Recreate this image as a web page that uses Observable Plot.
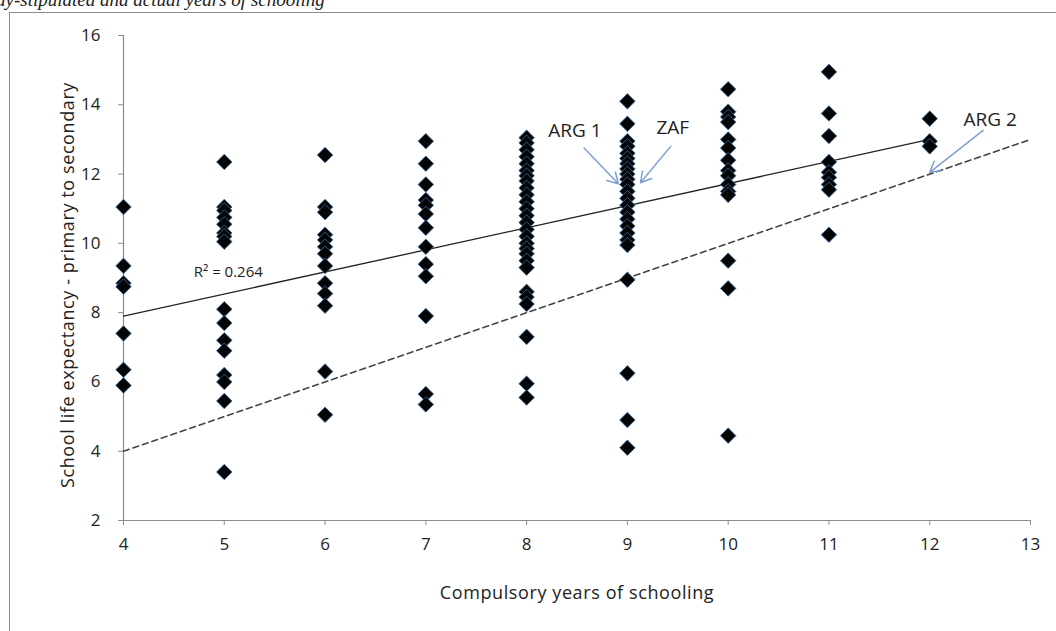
<!DOCTYPE html>
<html>
<head>
<meta charset="utf-8">
<script src="https://cdn.jsdelivr.net/npm/d3@7"></script>
<script src="https://cdn.jsdelivr.net/npm/@observablehq/plot@0.6"></script>
<style>
  html, body { margin: 0; padding: 0; background: #fff; width: 1056px; height: 631px; overflow: hidden; position: relative; }
  #title { position: absolute; left: -4px; top: -10px; font-family: "Liberation Serif", serif; font-style: italic; font-size: 19px; line-height: 19px; color: #222; white-space: nowrap; }
  #frame { position: absolute; left: 9px; top: 12px; width: 1047px; height: 619px; border-left: 1px solid #8c8c8c; border-top: 1px solid #8c8c8c; box-sizing: border-box; }
  #frame svg { display: block; }
  #frame svg .axis-title { letter-spacing: 0.6px; }
</style>
</head>
<body>
<div id="title">ay-stipulated and actual years of schooling</div>
<div id="frame"></div>
<script>
// Compulsory years (x categories) and school life expectancy values per column
const years = [4, 5, 6, 7, 8, 9, 10, 11, 12];
const sle4  = [11.05, 9.35, 8.85, 8.75, 7.4, 6.35, 5.9];
const sle5  = [12.35, 11.05, 10.95, 10.75, 10.55, 10.3, 10.2, 10.05, 8.1, 7.7, 7.2, 6.9, 6.2, 6.0, 5.45, 3.4];
const sle6  = [12.55, 11.05, 10.9, 10.25, 10.1, 9.9, 9.7, 9.35, 8.85, 8.55, 8.2, 6.3, 5.05];
const sle7  = [12.95, 12.3, 11.7, 11.25, 11.1, 10.85, 10.45, 9.9, 9.4, 9.05, 7.9, 5.65, 5.35];
const sle8  = [13.05, 12.9, 12.7, 12.5, 12.3, 12.1, 11.95, 11.8, 11.6, 11.4, 11.2, 11.0, 10.8, 10.6, 10.4, 10.2, 10.0, 9.85, 9.7, 9.5, 9.3, 8.6, 8.45, 8.25, 7.3, 5.95, 5.55];
const sle9  = [14.1, 13.45, 12.95, 12.8, 12.6, 12.45, 12.3, 12.15, 12.0, 11.85, 11.7, 11.5, 11.3, 11.1, 10.9, 10.7, 10.5, 10.3, 10.1, 9.95, 8.95, 6.25, 4.9, 4.1];
const sle10 = [14.45, 13.8, 13.65, 13.5, 13.0, 12.75, 12.4, 12.1, 11.95, 11.7, 11.5, 11.4, 9.5, 8.7, 4.45];
const sle11 = [14.95, 13.75, 13.1, 12.35, 12.05, 11.9, 11.7, 11.55, 10.25];
const sle12 = [13.6, 12.95, 12.8];
const columns = [sle4, sle5, sle6, sle7, sle8, sle9, sle10, sle11, sle12];

// Linear trend line (as drawn) and 45-degree reference line
const trendX = [4, 12];
const trendY = [7.9, 13.0];
const parityX = [4, 13];
const parityY = [4, 13];

// Tick labels
const xTicks = [4, 5, 6, 7, 8, 9, 10, 11, 12, 13];
const yTicks = [2, 4, 6, 8, 10, 12, 14, 16];

// Annotations
const labelText = ["ARG 1", "ZAF", "ARG 2"];
const labelX = [8.48, 9.45, 12.6];
const labelY = [13.26, 13.32, 13.57];
const r2Text = ["R² = 0.264"];
const r2X = [5.04];
const r2Y = [9.16];
const arrowX1 = [8.57, 9.43, 12.53];
const arrowY1 = [12.75, 12.8, 13.26];
const arrowX2 = [8.91, 9.13, 12.0];
const arrowY2 = [11.72, 11.75, 12.05];

const points = [];
years.forEach((yr, i) => columns[i].forEach(v => points.push({x: yr, y: v})));
const trend = trendX.map((x, i) => ({x, y: trendY[i]}));
const parity = parityX.map((x, i) => ({x, y: parityY[i]}));
const labels = labelText.map((t, i) => ({t, x: labelX[i], y: labelY[i]}));
const r2 = r2Text.map((t, i) => ({t, x: r2X[i], y: r2Y[i]}));
const arrows = arrowX1.map((x1, i) => ({x1, y1: arrowY1[i], x2: arrowX2[i], y2: arrowY2[i]}));

const font = "'Open Sans', sans-serif";

const chart = Plot.plot({
  width: 1046,
  height: 618,
  marginLeft: 113,
  marginRight: 26,
  marginTop: 22,
  marginBottom: 111,
  style: {fontFamily: font, fontSize: "16px", color: "#333", background: "white", overflow: "visible"},
  x: {domain: [4, 13]},
  y: {domain: [2, 16]},
  marks: [
    Plot.ruleX([4], {y1: 2, y2: 16, stroke: "#8c8c8c", strokeWidth: 1.2}),
    Plot.ruleY([2], {x1: 4, x2: 13, stroke: "#8c8c8c", strokeWidth: 1.2}),
    Plot.axisY(yTicks, {tickSize: 5, tickPadding: 18, stroke: "#8c8c8c", fill: "#222", fontSize: 17, label: null}),
    Plot.axisX(xTicks, {tickSize: 5, tickPadding: 12, stroke: "#8c8c8c", fill: "#222", fontSize: 17, label: null}),
    Plot.text(["Compulsory years of schooling"], {frameAnchor: "bottom", dy: 78, fill: "#222", fontSize: 18, className: "axis-title"}),
    Plot.text(["School life expectancy - primary to secondary"], {frameAnchor: "left", textAnchor: "middle", dx: -55, dy: 7, rotate: -90, fill: "#222", fontSize: 18, className: "axis-title"}),
    Plot.line(parity, {x: "x", y: "y", stroke: "#444", strokeWidth: 1.6, strokeDasharray: "6,4"}),
    Plot.line(trend, {x: "x", y: "y", stroke: "#222", strokeWidth: 1.3}),
    Plot.dot(points, {x: "x", y: "y", symbol: "diamond2", r: 7, fill: "#050505", stroke: "#3a6ea5", strokeWidth: 0.8}),
    Plot.arrow(arrows, {x1: "x1", y1: "y1", x2: "x2", y2: "y2", stroke: "#7f9fd3", strokeWidth: 1.5, headLength: 12}),
    Plot.text(labels, {x: "x", y: "y", text: "t", fill: "#222", fontSize: 19}),
    Plot.text(r2, {x: "x", y: "y", text: "t", fill: "#222", fontSize: 15})
  ]
});
document.getElementById("frame").appendChild(chart);
</script>
</body>
</html>
